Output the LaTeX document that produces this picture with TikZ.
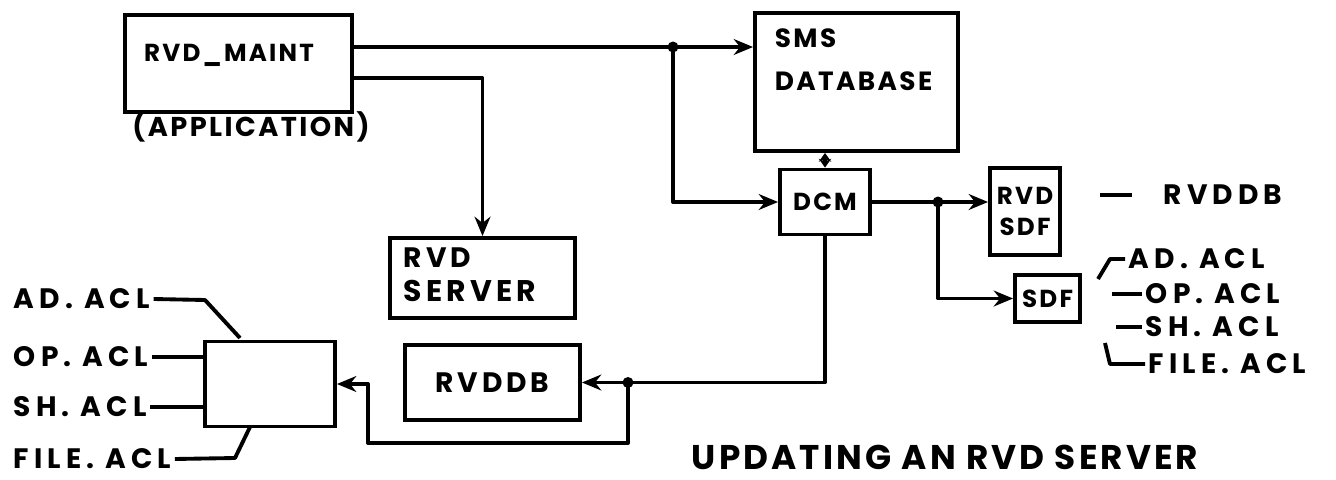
\documentclass[tikz,border=0pt]{standalone}
\usepackage{fontspec}
\setmainfont[LetterSpace=9]{Poppins}
\usetikzlibrary{arrows.meta}
\tikzset{
  box/.style={draw, line width=2.2pt, inner sep=0pt, font=\fontsize{14}{18}\selectfont\bfseries, align=center},
  lbl/.style={font=\fontsize{14}{17}\selectfont\bfseries, inner sep=2pt},
  big/.style={font=\fontsize{16}{18}\selectfont\bfseries\addfontfeature{LetterSpace=14}},
  acl/.style={inner sep=2pt, font=\fontsize{16}{18}\selectfont\bfseries\addfontfeature{LetterSpace=18}},
  ttl/.style={font=\fontsize{19.5}{20}\selectfont\bfseries, inner sep=0pt},
  ln/.style={line width=2.2pt, line join=round},
  arr/.style={ln, -{Stealth[length=11pt,width=9pt]}},
  dbl/.style={ln, {Stealth[length=5pt,width=7pt]}-{Stealth[length=5pt,width=7pt]}},
  dot/.style={circle, fill, inner sep=0pt, minimum size=0.22cm}
}
\begin{document}
\begin{tikzpicture}[x=0.02cm, y=-0.02cm]
\useasboundingbox (0,0) rectangle (1336,480);

% boxes
\node[box, minimum width=4.54cm, minimum height=1.94cm] (maint) at (238.5,63.5) {};
\node[lbl] (maintt) at (229,55) {RVD\_MAINT};
\node[lbl, font=\fontsize{15.5}{18}\selectfont\bfseries] (app) at (251,127) {(APPLICATION)};

\node[box, minimum width=3.7cm, minimum height=1.6cm] (server) at (482.5,278) {};
\node[lbl, anchor=west, big] (servert1) at (400,258) {RVD};
\node[lbl, anchor=west, big, font=\fontsize{17}{18}\selectfont\bfseries\addfontfeature{LetterSpace=14}] (servert2) at (400,291) {SERVER};

\node[box, minimum width=3.5cm, minimum height=1.5cm, big] (rvddb) at (492.5,382.5) {RVDDB};

\node[box, minimum width=4.06cm, minimum height=2.76cm] (sms) at (856.5,82) {};
\node[lbl, anchor=west, font=\fontsize{15}{18}\selectfont\bfseries] (smst1) at (771,38) {SMS};
\node[lbl, anchor=west, font=\fontsize{15}{18}\selectfont\bfseries] (smst2) at (771,81) {DATABASE};

\node[box, minimum width=1.8cm, minimum height=1.3cm] (dcm) at (825,202) {DCM};
\node[box, minimum width=1.4cm, minimum height=1.74cm] (rsdf) at (1025,211.5) {RVD\\SDF};
\node[box, minimum width=1.3cm, minimum height=0.94cm] (sdf) at (1047.5,298.5) {SDF};
\node[box, minimum width=2.6cm, minimum height=1.7cm] (acl) at (270,384) {};

% junctions
\coordinate (j1) at (673,47);
\coordinate (m2) at (352,78);
\coordinate (j2) at (938,202);
\coordinate (j3) at (628,382.5);
\coordinate (b1) at (368,443);
\node[dot] at (j1) {};
\node[dot] at (j2) {};
\node[dot] at (j3) {};

% connectors
\draw[arr] (maint.east |- j1) -- (j1) -- (sms.west |- j1);
\draw[arr] (m2) -| (server.north);
\draw[arr] (j1) |- (dcm.west);
\draw[dbl] (dcm.north |- sms.south) -- (dcm.north);
\draw[arr] (dcm.east) -- (j2) -- (rsdf.west |- j2);
\draw[arr] (j2) |- (sdf.west);
\draw[arr] (dcm.south) |- (rvddb.east);
\draw[arr] (j3) |- (b1) |- (acl.east);

% left labels
\node[acl, anchor=west] (lad) at (10,299) {AD. ACL};
\node[acl, anchor=west] (lop) at (10,357) {OP. ACL};
\node[acl, anchor=west] (lsh) at (10,407) {SH. ACL};
\node[acl, anchor=west] (lfile) at (10,459) {FILE. ACL};
\coordinate (ad1) at (205,300);
\coordinate (ad2) at (240,338);
\coordinate (fi1) at (235,458);
\coordinate (fi2) at (250,427);
\draw[ln] (lad.east) -- (ad1) -- (ad2);
\draw[ln] (lop.east) -- (acl.west |- lop.east);
\draw[ln] (lsh.east) -- (acl.west |- lsh.east);
\draw[ln] (lfile.east) -- (fi1) -- (fi2);

% right labels
\node[acl, anchor=west] (rdb) at (1160,195) {RVDDB};
\node[acl, anchor=west] (rad) at (1125,259) {AD. ACL};
\node[acl, anchor=west] (rop) at (1142,294) {OP. ACL};
\node[acl, anchor=west] (rsh) at (1142,327) {SH. ACL};
\node[acl, anchor=west] (rfi) at (1145,364) {FILE. ACL};
\coordinate (d0a) at (1100,195);
\coordinate (d0b) at (1132,195);
\draw[ln] (d0a) -- (d0b);
\coordinate (ada) at (1098,279);
\coordinate (adb) at (1110,259);
\draw[ln] (ada) -- (adb) -- (rad.west);
\coordinate (opa) at (1112,294);
\draw[ln] (opa) -- (rop.west);
\coordinate (sha) at (1116,327);
\draw[ln] (sha) -- (rsh.west);
\coordinate (fia) at (1105,343);
\coordinate (fib) at (1110,364);
\draw[ln] (fia) -- (fib) -- (rfi.west);

% title
\node[ttl] (title) at (945,457) {UPDATING AN RVD SERVER};
\end{tikzpicture}
\end{document}
